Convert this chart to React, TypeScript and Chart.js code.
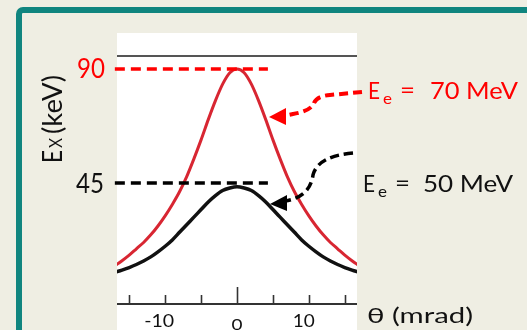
import React, { useEffect, useRef } from "react";
import { Chart, registerables } from "chart.js";

Chart.register(...registerables);

// ---- data ----
const thetaValues = [-17, -16, -15, -14, -13, -12, -11, -10, -9, -8, -7, -6, -5, -4, -3, -2, -1, 0, 1, 2, 3, 4, 5, 6, 7, 8, 9, 10, 11, 12, 13, 14, 15, 16, 17];
const red70Values = [12.3, 14.3, 16.5, 19, 21.5, 24.5, 28, 32, 36.5, 41.5, 47.5, 54.5, 62, 70, 77.5, 84, 88.5, 90, 88.5, 84, 77.5, 70, 62, 54.5, 47.5, 41.5, 36.5, 32, 28, 24.5, 21.5, 19, 16.5, 14.3, 12.3];
const black50Values = [9.7, 10.6, 11.6, 12.8, 14.2, 15.8, 17.8, 20, 22.5, 25.5, 28.5, 31.5, 34.5, 37.5, 40, 42, 43, 43.5, 43, 42, 40, 37.5, 34.5, 31.5, 28.5, 25.5, 22.5, 20, 17.8, 15.8, 14.2, 12.8, 11.6, 10.6, 9.7];
const peakMarkers = [90, 45];
const peakLineTheta = [-17, 4.3];
const topLineValue = 95.1;
const xTicks = [-15, -10, -5, 0, 5, 10, 15];
const xTickLabels = ["-10", "0", "10"];
const xTickLabelValues = [-10, 0, 10];
const energyLabels = ["70 MeV", "50 MeV"];

const FONT = 'Lato, "Open Sans", sans-serif';

function fitText(ctx: CanvasRenderingContext2D, text: string, x: number, y: number, width: number, font: string) {
  ctx.font = font;
  const m = ctx.measureText(text).width;
  ctx.save();
  ctx.translate(x, y);
  ctx.scale(width / m, 1);
  ctx.fillText(text, 0, 0);
  ctx.restore();
}

const decorPlugin = {
  id: "decor",
  beforeDraw(chart: any) {
    const ctx = chart.ctx;
    const { left, right, top } = chart.chartArea;
    ctx.save();
    ctx.fillStyle = "#efeee3";
    ctx.fillRect(0, 0, chart.width, chart.height);
    ctx.strokeStyle = "#10857f";
    ctx.lineWidth = 6;
    ctx.beginPath();
    ctx.roundRect(19, 10, 700, 500, 4);
    ctx.stroke();
    ctx.fillStyle = "#ffffff";
    ctx.fillRect(left, top, right - left, chart.height - top);
    ctx.restore();
  },
  afterDatasetsDraw(chart: any) {
    const ctx = chart.ctx;
    const x = chart.scales.x;
    ctx.save();
    const axisY = 304;
    ctx.strokeStyle = "#333";
    ctx.lineWidth = 2;
    ctx.beginPath();
    ctx.moveTo(chart.chartArea.left, axisY);
    ctx.lineTo(chart.chartArea.right, axisY);
    ctx.stroke();
    ctx.lineWidth = 1.6;
    xTicks.forEach((t) => {
      const px = Math.round(x.getPixelForValue(t)) + 0.5;
      ctx.beginPath();
      ctx.moveTo(px, axisY);
      ctx.lineTo(px, t === 0 ? 287 : 295);
      ctx.stroke();
    });

    // red dashed arrow
    ctx.setLineDash([9, 5]);
    ctx.lineWidth = 4;
    ctx.strokeStyle = "#ff0000";
    ctx.beginPath();
    ctx.moveTo(362, 92);
    ctx.lineTo(330, 95);
    ctx.quadraticCurveTo(317, 96, 314, 103);
    ctx.quadraticCurveTo(311, 111, 293, 114);
    ctx.lineTo(284, 116);
    ctx.stroke();
    ctx.setLineDash([]);
    ctx.fillStyle = "#ff0000";
    ctx.beginPath();
    ctx.moveTo(269, 117);
    ctx.lineTo(286, 108);
    ctx.lineTo(286, 125);
    ctx.closePath();
    ctx.fill();

    // black dashed arrow
    ctx.setLineDash([9, 5]);
    ctx.strokeStyle = "#000";
    ctx.lineWidth = 3.5;
    ctx.beginPath();
    ctx.moveTo(353, 153);
    ctx.quadraticCurveTo(318, 156, 313, 175);
    ctx.quadraticCurveTo(310, 197, 285, 201);
    ctx.stroke();
    ctx.setLineDash([]);
    ctx.fillStyle = "#000";
    ctx.beginPath();
    ctx.moveTo(270, 204);
    ctx.lineTo(287, 195);
    ctx.lineTo(287, 211);
    ctx.closePath();
    ctx.fill();
    ctx.restore();
  },
  afterDraw(chart: any) {
    const ctx = chart.ctx;
    const x = chart.scales.x;
    const y = chart.scales.y;
    ctx.save();
    ctx.textAlign = "left";
    ctx.textBaseline = "alphabetic";
    ctx.fillStyle = "#ff0000";
    fitText(ctx, String(peakMarkers[0]), 77, y.getPixelForValue(peakMarkers[0]) + 9, 28, `27px ${FONT}`);
    ctx.fillStyle = "#111";
    fitText(ctx, String(peakMarkers[1]), 76, y.getPixelForValue(peakMarkers[1]) + 10, 28, `27px ${FONT}`);

    xTickLabelValues.forEach((v, i) => {
      const px = x.getPixelForValue(v);
      if (v === 0) {
        fitText(ctx, xTickLabels[i], px - 5.5, 330, 11, `16px ${FONT}`);
      } else if (v < 0) {
        fitText(ctx, xTickLabels[i], px - 21, 327, 30, `18px ${FONT}`);
      } else {
        fitText(ctx, xTickLabels[i], px - 16, 327, 22, `18px ${FONT}`);
      }
    });

    fitText(ctx, "θ (mrad)", 367, 323, 106, `22px ${FONT}`);

    ctx.save();
    ctx.translate(62, 163);
    ctx.rotate(-Math.PI / 2);
    fitText(ctx, "E", 0, 0, 13, `26px ${FONT}`);
    fitText(ctx, "X", 15, 0, 10, `18px ${FONT}`);
    fitText(ctx, "(keV)", 29, 0, 59, `26px ${FONT}`);
    ctx.restore();

    ctx.fillStyle = "#ff0000";
    fitText(ctx, "E", 368, 99, 12, `24px ${FONT}`);
    fitText(ctx, "e", 383, 104, 9, `16px ${FONT}`);
    fitText(ctx, "=", 400, 98, 15, `24px ${FONT}`);
    fitText(ctx, energyLabels[0], 430, 99, 88, `24px ${FONT}`);
    ctx.fillStyle = "#111";
    fitText(ctx, "E", 363, 192, 12, `24px ${FONT}`);
    fitText(ctx, "e", 378, 197, 9, `16px ${FONT}`);
    fitText(ctx, "=", 395, 191, 15, `24px ${FONT}`);
    fitText(ctx, energyLabels[1], 423, 192, 90, `24px ${FONT}`);
    ctx.restore();
  },
};

export default function App() {
  const ref = useRef<HTMLCanvasElement | null>(null);
  useEffect(() => {
    if (!ref.current) return;
    const chart = new Chart(ref.current, {
      type: "line",
      data: {
        datasets: [
          {
            label: "90 keV",
            data: peakLineTheta.map((t) => ({ x: t, y: peakMarkers[0] })),
            borderColor: "#ff0000",
            borderWidth: 3.5,
            borderDash: [10, 6],
            pointRadius: 0,
            order: 0,
            clip: { left: 3, right: 0, top: 0, bottom: 0 },
          },
          {
            label: "45 keV",
            data: peakLineTheta.map((t) => ({ x: t, y: peakMarkers[1] })),
            borderColor: "#000",
            borderWidth: 3.5,
            borderDash: [10, 6],
            pointRadius: 0,
            order: 0,
            clip: { left: 3, right: 0, top: 0, bottom: 0 },
          },
          {
            label: "Ee = 50 MeV",
            data: thetaValues.map((t, i) => ({ x: t, y: black50Values[i] })),
            borderColor: "#111",
            borderWidth: 3.5,
            pointRadius: 0,
            cubicInterpolationMode: "monotone",
            order: 1,
          },
          {
            label: "Ee = 70 MeV",
            data: thetaValues.map((t, i) => ({ x: t, y: red70Values[i] })),
            borderColor: "#d82632",
            borderWidth: 3,
            pointRadius: 0,
            cubicInterpolationMode: "monotone",
            order: 2,
          },
          {
            label: "top",
            data: [{ x: -16.7, y: topLineValue }, { x: 16.7, y: topLineValue }],
            borderColor: "#555",
            borderWidth: 2,
            pointRadius: 0,
            order: 3,
          },
        ],
      },
      options: {
        responsive: false,
        animation: false,
        layout: { padding: { left: 117, right: 170, top: 33, bottom: 26 } },
        plugins: { legend: { display: false }, tooltip: { enabled: false } },
        scales: {
          x: { type: "linear", min: -16.7, max: 16.7, display: false },
          y: { type: "linear", min: -2.8, max: 104.2, display: false },
        },
      },
      plugins: [decorPlugin],
    });
    return () => chart.destroy();
  }, []);
  return (
    <div style={{ position: "fixed", left: 0, top: 0, width: 527, height: 330 }}>
      <canvas ref={ref} width={527} height={330} style={{ display: "block" }} />
    </div>
  );
}
